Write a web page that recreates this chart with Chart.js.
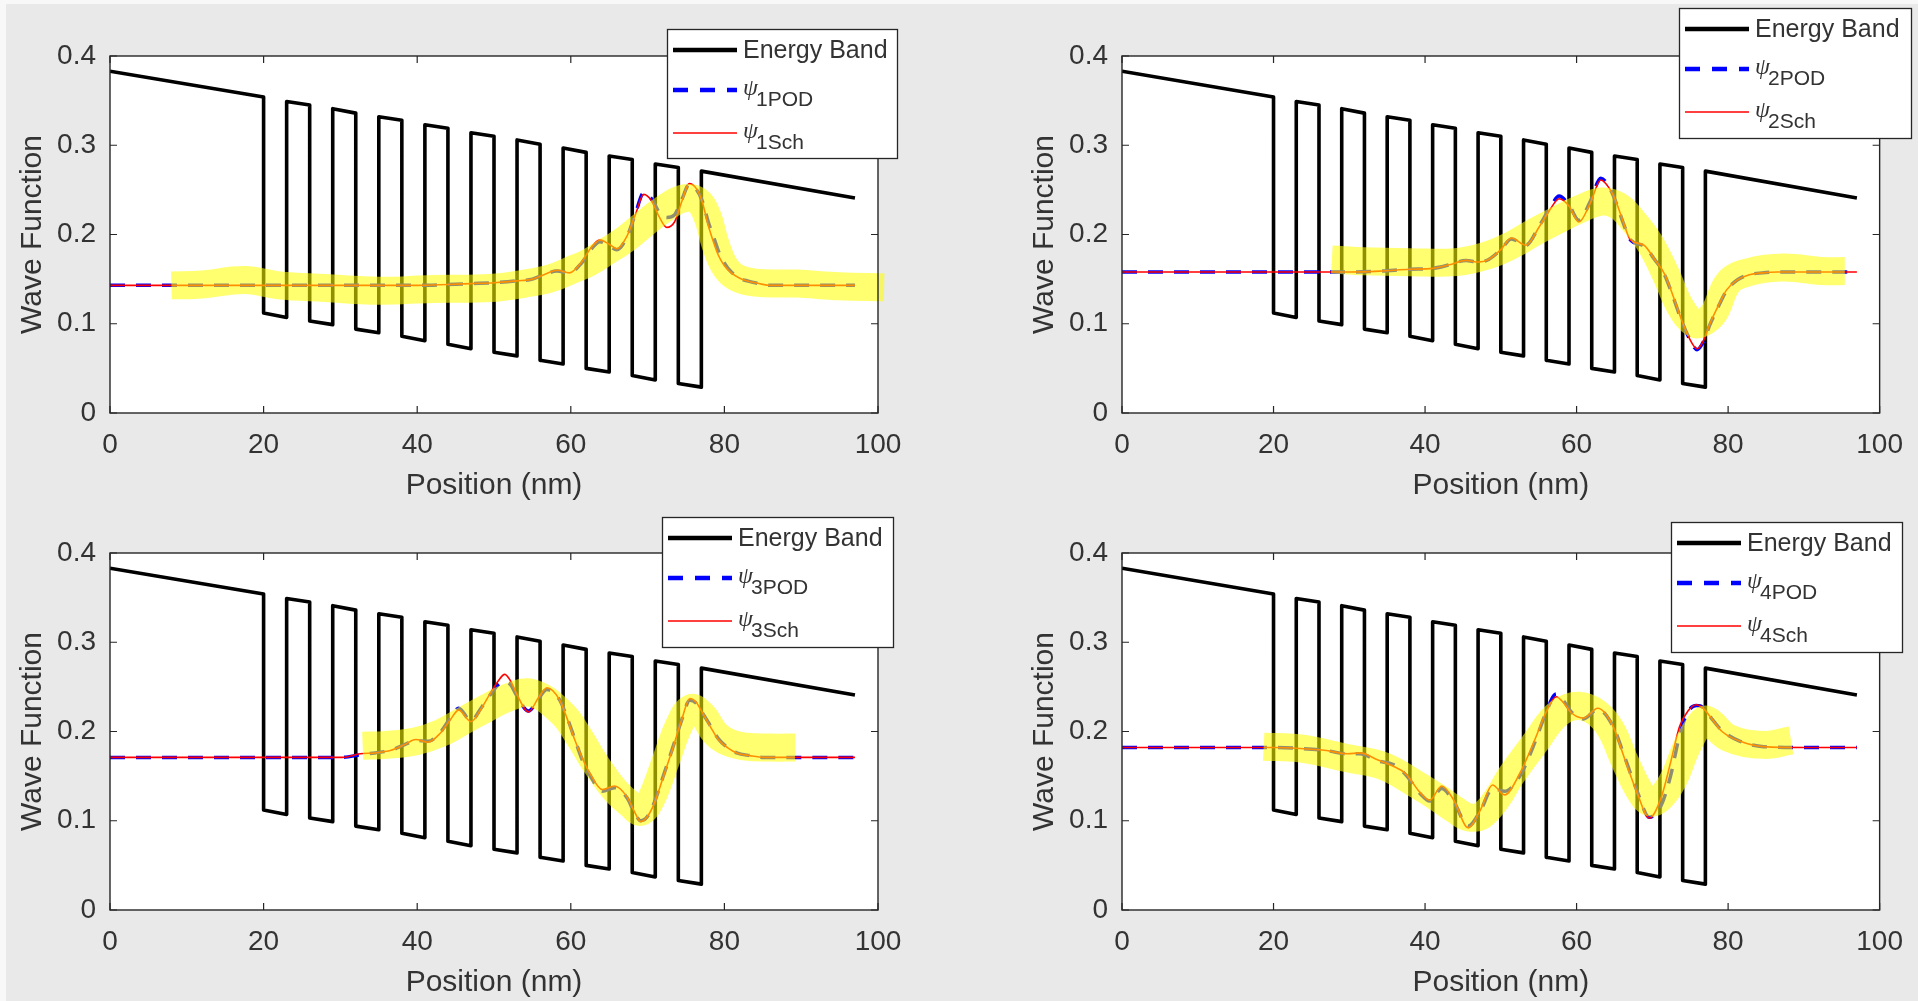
<!DOCTYPE html>
<html>
<head>
<meta charset="utf-8">
<title>Wave functions in the biased superlattice</title>
<script src="https://cdn.jsdelivr.net/npm/chart.js@4.4.1/dist/chart.umd.min.js"></script>
<style>
  html, body { margin: 0; padding: 0; background: #fafafa; }
  #fig { position: absolute; left: 0; top: 0; width: 1918px; height: 1001px; background: #e9e9e9; overflow: hidden; }
  #edgeL { position: absolute; left: 0; top: 0; width: 6px; height: 1001px; background: #f8f8f8; }
  #edgeT { position: absolute; left: 0; top: 0; width: 1918px; height: 4px; background: #f8f8f8; }
  .panel { position: absolute; width: 959px; height: 504px; }
  canvas { display: block; }
</style>
</head>
<body>
<div id="fig">
  <div class="panel" style="left:0;top:0"><canvas id="c1" width="959" height="504"></canvas></div>
  <div class="panel" style="left:959px;top:0"><canvas id="c2" width="959" height="504"></canvas></div>
  <div class="panel" style="left:0;top:497px"><canvas id="c3" width="959" height="504"></canvas></div>
  <div class="panel" style="left:959px;top:497px"><canvas id="c4" width="959" height="504"></canvas></div>
  <div id="edgeL"></div><div id="edgeT"></div>
</div>
<script>
// ---- axes ----
const xTickValues = [0, 20, 40, 60, 80, 100];
const xTickLabels = ['0', '20', '40', '60', '80', '100'];
const yTickValues = [0, 0.1, 0.2, 0.3, 0.4];
const yTickLabels = ['0', '0.1', '0.2', '0.3', '0.4'];
const xTitle = 'Position (nm)';
const yTitle = 'Wave Function';
const bandName = 'Energy Band';
const psiSymbol = '\u03C8';

// ---- conduction band profile (corner points, nm / eV) ----
const bandX = [0, 20, 20, 23, 23, 26, 26, 29, 29, 32, 32, 35, 35, 38, 38, 41, 41, 44, 44, 47, 47,
               50, 50, 53, 53, 56, 56, 59, 59, 62, 62, 65, 65, 68, 68, 71, 71, 74, 74, 77, 77, 97];
const bandY = [0.383, 0.354, 0.112, 0.107, 0.349, 0.345, 0.103, 0.099, 0.341, 0.336, 0.094, 0.090,
               0.332, 0.328, 0.086, 0.081, 0.323, 0.319, 0.077, 0.072, 0.314, 0.310, 0.068, 0.064,
               0.306, 0.301, 0.059, 0.055, 0.297, 0.292, 0.050, 0.046, 0.288, 0.284, 0.042, 0.037,
               0.279, 0.275, 0.033, 0.029, 0.271, 0.241];

// ---- state 1 ----
const psi1X = [0, 10, 20, 30, 40, 44, 47, 50, 53, 55, 56.5, 58.2, 59.8, 61.4, 62.7, 63.8, 65, 66, 67.3, 68.4,
               69.5, 70.5, 71.5, 72.5, 73.5, 74.5, 75.4, 76.3, 77.1, 77.9, 78.6, 79.2, 80, 80.9, 82, 83, 84.5, 86, 90, 97];
const psi1Sch = [0.143, 0.143, 0.143, 0.143, 0.143, 0.144, 0.145, 0.146, 0.148, 0.150, 0.155, 0.160, 0.157, 0.169, 0.186,
                 0.194, 0.189, 0.184, 0.198, 0.222, 0.245, 0.238, 0.220, 0.208, 0.214, 0.238, 0.257, 0.252, 0.237, 0.210,
                 0.191, 0.177, 0.165, 0.157, 0.151, 0.148, 0.145, 0.143, 0.143, 0.143];
const psi1Pod = [0.143, 0.143, 0.143, 0.143, 0.143, 0.144, 0.145, 0.146, 0.148, 0.150, 0.155, 0.159, 0.157, 0.168, 0.184,
                 0.192, 0.187, 0.183, 0.197, 0.223, 0.247, 0.240, 0.225, 0.219, 0.222, 0.240, 0.256, 0.251, 0.238, 0.214,
                 0.197, 0.182, 0.168, 0.158, 0.151, 0.148, 0.145, 0.143, 0.143, 0.143];
const mark1X = [8, 12, 17.5, 22, 28, 35, 42, 49.5, 54, 57.4, 60, 62.2, 65, 67, 70, 72, 74.5, 76.5, 77.8, 78.8,
                80, 81.5, 84, 89.4, 95, 100.8];
const mark1Y = [0.143, 0.144, 0.149, 0.143, 0.140, 0.137, 0.139, 0.140, 0.145, 0.151, 0.160, 0.168, 0.183, 0.194,
                0.215, 0.228, 0.240, 0.238, 0.220, 0.190, 0.165, 0.152, 0.146, 0.145, 0.142, 0.141];

// ---- state 2 ----
const psi2X = [0, 10, 20, 30, 34, 38, 41, 43.2, 45.4, 47, 48.4, 50, 51.4, 53.3, 55.1, 56.5, 57.7, 59, 60.3, 61.8,
               63.2, 64.3, 65.2, 66.2, 67.1, 68.9, 70.3, 71.6, 72.7, 73.7, 74.8, 75.9, 76.8, 77.6, 78.7, 79.8,
               81.2, 82.8, 84.5, 86.5, 90, 97];
const psi2Sch = [0.158, 0.158, 0.158, 0.158, 0.159, 0.161, 0.162, 0.166, 0.171, 0.169, 0.172, 0.183, 0.196, 0.188,
                 0.209, 0.228, 0.240, 0.232, 0.214, 0.235, 0.261, 0.252, 0.237, 0.213, 0.194, 0.188, 0.172, 0.156,
                 0.132, 0.108, 0.085, 0.072, 0.082, 0.100, 0.120, 0.138, 0.149, 0.155, 0.157, 0.158, 0.158, 0.158];
const psi2Pod = [0.158, 0.158, 0.158, 0.158, 0.159, 0.161, 0.162, 0.166, 0.171, 0.169, 0.172, 0.183, 0.195, 0.188,
                 0.210, 0.230, 0.243, 0.233, 0.216, 0.237, 0.263, 0.253, 0.236, 0.212, 0.194, 0.187, 0.172, 0.155,
                 0.131, 0.107, 0.085, 0.071, 0.081, 0.099, 0.119, 0.137, 0.149, 0.155, 0.157, 0.158, 0.158, 0.158];
const mark2X = [27.7, 32, 38, 44, 48, 51.4, 54.5, 57.4, 60.3, 63.3, 65.5, 67.5, 69.7, 71.8, 73.7, 75.6, 77, 78.2,
                80.1, 82.8, 87.3, 92.6, 95.4];
const mark2Y = [0.172, 0.170, 0.169, 0.169, 0.176, 0.188, 0.203, 0.216, 0.228, 0.237, 0.232, 0.215, 0.190, 0.155,
                0.119, 0.100, 0.103, 0.113, 0.147, 0.158, 0.163, 0.159, 0.159];

// ---- state 3 ----
const psi3X = [0, 10, 20, 28, 30.3, 32.6, 34.5, 36.6, 38.3, 39.8, 41.4, 43, 44.3, 45.4, 47, 48.3, 49.4, 50.5, 51.4,
               52.2, 52.9, 54.5, 55.8, 56.9, 58.5, 59.5, 60.5, 61.5, 62.5, 64.1, 65.7, 67.3, 68.3, 69.1, 70, 70.9,
               72, 73.2, 74.4, 75.5, 76.3, 77.2, 78.2, 79.2, 80.4, 81.6, 83.3, 85.2, 90, 97];
const psi3Sch = [0.171, 0.171, 0.171, 0.171, 0.171, 0.175, 0.176, 0.179, 0.185, 0.191, 0.188, 0.198, 0.213, 0.224,
                 0.211, 0.225, 0.241, 0.256, 0.264, 0.256, 0.243, 0.222, 0.238, 0.249, 0.236, 0.215, 0.191, 0.170,
                 0.153, 0.135, 0.139, 0.127, 0.110, 0.099, 0.105, 0.120, 0.148, 0.179, 0.212, 0.237, 0.233, 0.220,
                 0.205, 0.191, 0.182, 0.176, 0.173, 0.171, 0.171, 0.171];
const psi3Pod = [0.171, 0.171, 0.171, 0.171, 0.171, 0.174, 0.176, 0.179, 0.185, 0.190, 0.189, 0.199, 0.215, 0.226,
                 0.212, 0.226, 0.240, 0.252, 0.256, 0.252, 0.241, 0.223, 0.237, 0.247, 0.236, 0.216, 0.192, 0.168,
                 0.151, 0.133, 0.137, 0.126, 0.109, 0.100, 0.105, 0.121, 0.149, 0.180, 0.212, 0.235, 0.232, 0.220,
                 0.206, 0.192, 0.182, 0.176, 0.173, 0.171, 0.171, 0.171];
const mark3X = [32.9, 36, 39.8, 43, 46.2, 49, 51.8, 55, 58.9, 61, 62.9, 64.5, 66.1, 67.8, 69.1, 70.5, 72.4, 74,
                75.6, 77.2, 78.8, 80.5, 82.8, 86, 89.2];
const mark3Y = [0.184, 0.185, 0.189, 0.198, 0.213, 0.226, 0.238, 0.243, 0.220, 0.195, 0.168, 0.148, 0.131, 0.118,
                0.110, 0.125, 0.168, 0.205, 0.226, 0.218, 0.198, 0.188, 0.183, 0.182, 0.182];

// ---- state 4 ----
const psi4X = [0, 10, 20, 23.5, 26.7, 29.8, 31.4, 33.8, 35.8, 37.4, 39.4, 40.6, 42.2, 43.8, 45.7, 47.3, 48.9, 50.5,
               52.5, 54.5, 56, 57.3, 58.3, 59.3, 60.9, 62.8, 64.8, 66.4, 68, 69.6, 71.2, 72.4, 73.6, 74.7, 75.8,
               76.7, 77.6, 79.2, 81.6, 84.7, 90, 97];
const psi4Sch = [0.182, 0.182, 0.182, 0.181, 0.179, 0.175, 0.176, 0.168, 0.161, 0.153, 0.131, 0.123, 0.139, 0.123,
                 0.092, 0.112, 0.140, 0.129, 0.153, 0.191, 0.222, 0.239, 0.232, 0.221, 0.215, 0.226, 0.206, 0.168,
                 0.131, 0.103, 0.127, 0.165, 0.206, 0.223, 0.230, 0.226, 0.217, 0.200, 0.189, 0.183, 0.182, 0.182];
const psi4Pod = [0.182, 0.182, 0.182, 0.181, 0.179, 0.175, 0.175, 0.167, 0.163, 0.152, 0.130, 0.122, 0.136, 0.121,
                 0.094, 0.111, 0.136, 0.133, 0.150, 0.188, 0.222, 0.242, 0.234, 0.222, 0.214, 0.225, 0.206, 0.170,
                 0.133, 0.104, 0.118, 0.150, 0.196, 0.222, 0.229, 0.227, 0.217, 0.201, 0.189, 0.183, 0.182, 0.182];
const mark4X = [18.7, 23.5, 29.8, 34.6, 38.6, 41.8, 44, 45.7, 47.5, 49.5, 51.3, 54.5, 57.7, 60.9, 64, 66.4, 68.2,
                69.6, 71, 72.7, 74.4, 76, 77.2, 80, 84.7, 88.3];
const mark4Y = [0.183, 0.181, 0.170, 0.161, 0.142, 0.125, 0.112, 0.104, 0.106, 0.125, 0.150, 0.187, 0.221, 0.228,
                0.209, 0.166, 0.135, 0.121, 0.125, 0.145, 0.180, 0.205, 0.213, 0.193, 0.185, 0.190];

// ---- layout / style ----
const FONT = '"Liberation Sans", Arial, Helvetica, sans-serif';
const TEXT = '#333333';
const AXIS = '#262626';
const CANVAS_W = 959, CANVAS_H = 504;
const PLOT_TOP = 56, PLOT_BOTTOM = 413, PLOT_W = 768;
const TICK_SIZE = 28, TITLE_SIZE = 30;

const panels = [
  { id: 'c1', n: '1', x: psi1X, sch: psi1Sch, pod: psi1Pod, mx: mark1X, my: mark1Y, plotLeft: 110, legend: [667, 29, 230, 129] },
  { id: 'c2', n: '2', x: psi2X, sch: psi2Sch, pod: psi2Pod, mx: mark2X, my: mark2Y, plotLeft: 163, legend: [720, 8, 232, 130] },
  { id: 'c3', n: '3', x: psi3X, sch: psi3Sch, pod: psi3Pod, mx: mark3X, my: mark3Y, plotLeft: 110, legend: [662, 20, 231, 130] },
  { id: 'c4', n: '4', x: psi4X, sch: psi4Sch, pod: psi4Pod, mx: mark4X, my: mark4Y, plotLeft: 163, legend: [712, 25, 231, 130] }
];

const pts = (xs, ys) => xs.map((x, i) => ({ x: x, y: ys[i] }));

// white axes background, box outline and inward tick marks
const framePlugin = {
  id: 'frame',
  beforeDatasetsDraw(chart) {
    const { ctx, chartArea: a } = chart;
    ctx.save();
    ctx.fillStyle = '#ffffff';
    ctx.fillRect(a.left, a.top, a.width, a.height);
    ctx.restore();
  },
  afterDatasetsDraw(chart) {
    const { ctx, chartArea: a, scales } = chart;
    ctx.save();
    ctx.strokeStyle = AXIS;
    ctx.lineWidth = 1.4;
    ctx.strokeRect(a.left, a.top, a.width, a.height);
    ctx.lineWidth = 1.2;
    ctx.beginPath();
    const tl = 7;
    scales.x.ticks.forEach(t => {
      const px = scales.x.getPixelForValue(t.value);
      ctx.moveTo(px, a.bottom); ctx.lineTo(px, a.bottom - tl);
      ctx.moveTo(px, a.top); ctx.lineTo(px, a.top + tl);
    });
    scales.y.ticks.forEach(t => {
      const py = scales.y.getPixelForValue(t.value);
      ctx.moveTo(a.left, py); ctx.lineTo(a.left + tl, py);
      ctx.moveTo(a.right, py); ctx.lineTo(a.right - tl, py);
    });
    ctx.stroke();
    ctx.restore();
  }
};

// boxed legend with psi and subscripted method names
function makeLegend(box, n) {
  return {
    id: 'boxLegend',
    afterDraw(chart) {
      const ctx = chart.ctx;
      const [L, T, W, H] = box;
      const ds = chart.data.datasets;
      const band = ds[1], pod = ds[2], sch = ds[3];
      ctx.save();
      ctx.fillStyle = '#ffffff';
      ctx.fillRect(L, T, W, H);
      ctx.strokeStyle = AXIS;
      ctx.lineWidth = 1.3;
      ctx.strokeRect(L + 0.5, T + 0.5, W, H);

      const sample = (y, color, width, dash) => {
        ctx.beginPath();
        ctx.setLineDash(dash);
        ctx.strokeStyle = color;
        ctx.lineWidth = width;
        ctx.moveTo(L + 6, y); ctx.lineTo(L + 70, y);
        ctx.stroke();
        ctx.setLineDash([]);
      };
      sample(T + 21, band.borderColor, 4.5, []);
      sample(T + 61, pod.borderColor, 4.5, [15, 12]);
      sample(T + 104, sch.borderColor, 1.6, []);

      ctx.fillStyle = TEXT;
      ctx.textBaseline = 'alphabetic';
      ctx.textAlign = 'left';
      ctx.font = '25px ' + FONT;
      ctx.fillText(band.label, L + 76, T + 29);

      const psiLabel = (yBase, sub) => {
        ctx.font = 'italic 24px "Liberation Serif", "DejaVu Serif", serif';
        ctx.fillText(psiSymbol, L + 76, yBase);
        ctx.font = '21px ' + FONT;
        ctx.fillText(sub, L + 89, yBase + 11);
      };
      psiLabel(T + 66, n + 'POD');
      psiLabel(T + 109, n + 'Sch');
      ctx.restore();
    }
  };
}

panels.forEach(p => {
  const padLeft = p.plotLeft - 77 - TITLE_SIZE * 0.6;
  const cfg = {
    type: 'line',
    data: {
      datasets: [
        {
          label: 'marker', data: pts(p.mx, p.my),
          borderColor: 'rgba(255,255,0,0.56)', borderWidth: 28, pointRadius: 0,
          tension: 0.4, borderCapStyle: 'butt', borderJoinStyle: 'round', clip: false, order: 0
        },
        {
          label: bandName, data: pts(bandX, bandY),
          borderColor: '#000000', borderWidth: 3.6, pointRadius: 0, tension: 0,
          borderJoinStyle: 'round', order: 3
        },
        {
          label: psiSymbol + p.n + 'POD', data: pts(p.x, p.pod),
          borderColor: '#0000ff', borderWidth: 3.5, borderDash: [15, 11], pointRadius: 0,
          cubicInterpolationMode: 'monotone', order: 2
        },
        {
          label: psiSymbol + p.n + 'Sch', data: pts(p.x, p.sch),
          borderColor: '#ff0000', borderWidth: 1.6, pointRadius: 0,
          cubicInterpolationMode: 'monotone', order: 1
        }
      ]
    },
    options: {
      responsive: false,
      animation: false,
      devicePixelRatio: 1,
      events: [],
      layout: {
        padding: { left: padLeft, top: PLOT_TOP, right: CANVAS_W - p.plotLeft - PLOT_W, bottom: 0 }
      },
      plugins: { legend: { display: false }, tooltip: { enabled: false } },
      scales: {
        x: {
          type: 'linear', min: 0, max: 100,
          afterBuildTicks: s => { s.ticks = xTickValues.map(v => ({ value: v })); },
          afterFit: s => { s.height = CANVAS_H - PLOT_BOTTOM; },
          grid: { display: false, drawTicks: false },
          border: { display: false },
          ticks: {
            autoSkip: false, maxRotation: 0, padding: 15, color: TEXT,
            font: { family: FONT, size: TICK_SIZE },
            callback: (v, i) => xTickLabels[i]
          },
          title: { display: true, text: xTitle, color: TEXT, font: { family: FONT, size: TITLE_SIZE }, padding: { top: 0, bottom: 0 } }
        },
        y: {
          type: 'linear', min: 0, max: 0.4,
          afterBuildTicks: s => { s.ticks = yTickValues.map(v => ({ value: v })); },
          afterFit: s => { s.width = p.plotLeft - padLeft; },
          grid: { display: false, drawTicks: false },
          border: { display: false },
          ticks: {
            autoSkip: false, padding: 14, color: TEXT,
            font: { family: FONT, size: TICK_SIZE },
            callback: (v, i) => yTickLabels[i]
          },
          title: { display: true, text: yTitle, color: TEXT, font: { family: FONT, size: TITLE_SIZE }, padding: 0 }
        }
      }
    },
    plugins: [framePlugin, makeLegend(p.legend, p.n)]
  };
  new Chart(document.getElementById(p.id), cfg);
});
</script>
</body>
</html>
